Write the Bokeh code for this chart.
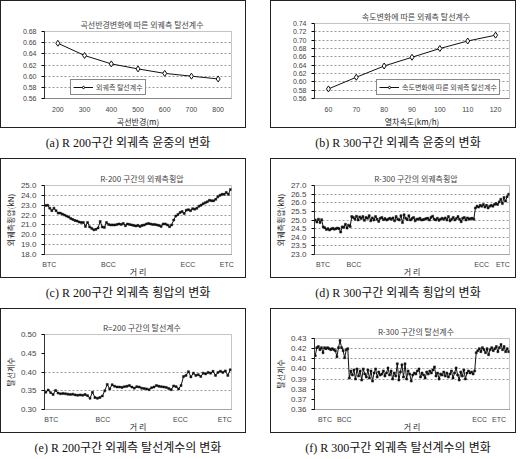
from bokeh.plotting import figure
from bokeh.models import Div, FixedTicker, FactorRange, Range1d, Legend, LegendItem, NumeralTickFormatter
from bokeh.layouts import column, row
from bokeh.embed import file_html
from bokeh.resources import INLINE

# ---------------- data ----------------
a_title = "곡선반경변화에 따른 외궤측 탈선계수"
a_cats = ["200", "300", "400", "500", "600", "700", "800"]
a_vals = [0.659, 0.637, 0.622, 0.613, 0.605, 0.600, 0.595]
a_xlabel = "곡선반경(m)"
a_legend = "외궤측 탈선계수"
a_caption = "(a) R 200구간 외궤측 윤중의 변화"

b_title = "속도변화에 따른 외궤측 탈선계수"
b_cats = ["60", "70", "80", "90", "100", "110", "120"]
b_vals = [0.583, 0.611, 0.638, 0.659, 0.680, 0.698, 0.712]
b_xlabel = "열차속도(km/h)"
b_legend = "속도변화에 따른 외궤측 탈선계수"
b_caption = "(b) R 300구간 외궤측 윤중의 변화"

pos_labels = ["BTC", "BCC", "ECC", "ETC"]

c_title = "R-200 구간의 외궤측횡압"
c_vals = [22.98, 23.0, 22.7, 22.45, 22.7, 22.45, 22.2, 22.2, 22.1, 22.0, 21.9, 21.8,
          21.65, 21.55, 21.45, 21.4, 21.3, 21.25, 21.25, 20.85, 21.25, 20.8, 20.65, 20.5,
          20.55, 20.7, 21.35, 20.8, 20.75, 21.25, 21.05, 21.0, 21.0, 21.0, 21.05, 21.1,
          21.05, 21.15, 20.92, 21.1, 21.05, 21.0, 20.95, 20.9, 20.95, 20.85, 20.95, 21.0,
          21.1, 21.15, 21.1, 21.05, 21.05, 21.0, 20.95, 20.85, 21.1, 21.1, 21.0, 20.82,
          21.0, 21.5, 21.9, 22.05, 22.25, 22.35, 22.15, 22.5, 22.55, 22.45, 22.65, 22.6,
          22.7, 22.9, 23.0, 23.15, 23.25, 23.35, 23.5, 23.45, 23.45, 23.6, 23.85, 24.0,
          24.1, 24.1, 24.3, 24.1, 24.6]
c_tick_frac = [0.02, 0.34, 0.77, 0.98]
c_ylabel = "외궤측횡압(kN)"
c_caption = "(c) R 200구간 외궤측 횡압의 변화"

d_title = "R-300 구간의 외궤측횡압"
d_vals = [25.0, 24.88, 25.05, 24.85, 25.02, 24.6, 24.55, 24.45, 24.5, 24.42, 24.48, 24.52,
          24.47, 24.5, 24.53, 24.5, 24.3, 24.6, 24.58, 24.75, 24.53, 24.7, 24.62,
          25.2, 25.15, 25.05, 25.22, 25.0, 25.18, 25.08, 25.2, 24.98, 25.15, 25.1, 25.25,
          24.95, 25.12, 25.0, 25.2, 25.05, 24.92, 25.1, 25.15, 25.02, 25.08, 25.0, 25.05,
          25.1, 25.05, 25.12, 24.95, 25.2, 25.05, 25.0, 25.25, 24.85, 25.3, 25.1, 25.02,
          25.25, 25.0, 25.08, 25.15, 24.95, 25.05, 25.05, 25.1, 25.0, 25.02, 25.05, 25.08,
          25.1, 25.0, 25.15, 25.22, 25.05, 25.0, 25.1, 24.98, 25.05, 25.1, 25.05, 25.12,
          25.0, 25.2, 24.95, 25.05, 25.15, 25.0, 25.08, 25.2, 25.05, 24.9, 25.1, 25.15,
          25.0, 25.12, 25.05, 25.08, 25.1, 25.05,
          25.7, 25.8, 25.75, 25.85, 25.8, 25.9, 25.75, 25.85, 25.7, 25.8, 25.85, 25.8,
          25.9, 25.95, 25.9, 26.05, 26.2, 25.95, 26.3, 26.1, 26.35, 26.5]
d_tick_frac = [0.04, 0.2, 0.86, 0.97]
d_ylabel = "외궤측횡압(kN)"
d_caption = "(d) R 300구간 외궤측 횡압의 변화"

e_title = "R=200 구간의 탈선계수"
e_vals = [0.346, 0.352, 0.345, 0.340, 0.351, 0.344, 0.342, 0.343, 0.342, 0.341, 0.340,
          0.341, 0.339, 0.338, 0.339, 0.338, 0.340, 0.337, 0.330, 0.346, 0.332, 0.330,
          0.332, 0.336, 0.350, 0.367, 0.355, 0.366, 0.362, 0.360, 0.360, 0.359, 0.361,
          0.362, 0.364, 0.360, 0.357, 0.361, 0.360, 0.357, 0.356, 0.355, 0.353, 0.358,
          0.360, 0.364, 0.362, 0.361, 0.360, 0.359, 0.356, 0.353, 0.363, 0.361, 0.355,
          0.364, 0.388, 0.391, 0.401, 0.387, 0.397, 0.391, 0.393, 0.388, 0.397, 0.395,
          0.399, 0.397, 0.402, 0.391, 0.399, 0.402, 0.399, 0.403, 0.391, 0.406]
e_tick_frac = [0.03, 0.31, 0.73, 0.97]
e_ylabel = "탈선계수"
e_caption = "(e) R 200구간 외궤측 탈선계수의 변화"

f_title = "R-300 구간의 탈선계수"
f_vals = [0.413, 0.421, 0.422, 0.419, 0.421, 0.416, 0.421, 0.420, 0.421, 0.420, 0.419,
          0.420, 0.419, 0.418, 0.412, 0.421, 0.428, 0.421, 0.418, 0.411, 0.419, 0.420,
          0.391, 0.398, 0.394, 0.399, 0.390, 0.400, 0.393, 0.398, 0.389, 0.400, 0.395,
          0.392, 0.399, 0.391, 0.398, 0.388, 0.396, 0.400, 0.392, 0.397, 0.394, 0.395,
          0.398, 0.393, 0.396, 0.401, 0.394, 0.398, 0.390, 0.396, 0.393, 0.405, 0.389,
          0.397, 0.404, 0.392, 0.405, 0.390, 0.398, 0.395, 0.388, 0.394, 0.396, 0.395,
          0.398, 0.400, 0.392, 0.396, 0.394, 0.391, 0.397, 0.395, 0.398, 0.396, 0.399,
          0.402, 0.393, 0.396, 0.390, 0.395, 0.394, 0.397, 0.393, 0.396, 0.392, 0.395,
          0.398, 0.391, 0.396, 0.401, 0.394, 0.389, 0.397, 0.393, 0.399, 0.390, 0.396,
          0.398, 0.396, 0.397, 0.395, 0.398,
          0.416, 0.418, 0.420, 0.417, 0.421, 0.419, 0.416, 0.420, 0.414, 0.419, 0.421,
          0.418, 0.420, 0.422, 0.417, 0.421, 0.424, 0.419, 0.422, 0.417, 0.420, 0.417]
f_tick_frac = [0.05, 0.15, 0.85, 0.95]
f_ylabel = "탈선계수"
f_caption = "(f) R 300구간 외궤측 탈선계수의 변화"

# ---------------- style ----------------
KFONT = "Noto Sans CJK KR"
NFONT = "Liberation Sans"
W = 246
GRID = "#9a9a9a"


def base(title, h, x_range, y_range, left, right, top, bottom):
    p = figure(width=W, height=h, output_backend="svg", toolbar_location=None,
               x_range=x_range, y_range=y_range, title=title,
               min_border_left=left, min_border_right=right,
               min_border_top=top, min_border_bottom=bottom,
               styles={"border": "1px solid #222"})
    p.title.align = "center"
    p.title.text_font = KFONT
    p.title.text_font_size = "8px"
    p.title.text_font_style = "normal"
    p.title.text_color = "#444"
    p.title.offset = 0
    p.title.standoff = 4
    p.title.padding = (8, 0, 0, 0)
    p.outline_line_color = "#888"
    p.outline_line_dash = "1 1"
    p.xgrid.grid_line_color = None
    p.ygrid.grid_line_color = GRID
    p.ygrid.grid_line_dash = "2 2"
    for ax in (p.xaxis, p.yaxis):
        ax.major_label_text_font = NFONT
        ax.major_label_text_font_size = "7px"
        ax.major_label_text_color = "#444"
        ax.axis_label_text_font = KFONT
        ax.axis_label_text_font_size = "8px"
        ax.axis_label_text_font_style = "normal"
        ax.axis_label_text_color = "#222"
        ax.minor_tick_line_color = None
        ax.major_tick_out = 3
        ax.major_tick_in = 0
    p.yaxis.axis_line_color = "#333"
    p.xaxis.axis_line_color = "#888"
    p.xaxis.major_tick_line_color = None
    return p


def curve_fig(title, cats, vals, xlabel, legend_label, h, y0, y1, yt, leg_loc, left, right, top, bottom):
    p = base(title, h, FactorRange(factors=cats, range_padding=0.0), Range1d(y0, y1),
             left, right, top, bottom)
    p.yaxis.ticker = FixedTicker(ticks=yt)
    p.yaxis.formatter = NumeralTickFormatter(format="0.00")
    p.xaxis.axis_label = xlabel
    p.xaxis.axis_label_standoff = 1
    p.xaxis.major_label_standoff = 5
    r1 = p.line(cats, vals, line_color="#111", line_width=1.0)
    r2 = p.scatter(cats, vals, marker="diamond", size=6, fill_color="white",
                   line_color="#111", line_width=1)
    leg = Legend(items=[LegendItem(label=legend_label, renderers=[r1, r2])],
                 location=leg_loc, label_text_font=KFONT, label_text_font_size="7px",
                 glyph_width=20, glyph_height=8, label_height=8, padding=2, spacing=0,
                 margin=0, border_line_color="#111", label_standoff=3,
                 background_fill_alpha=1)
    p.add_layout(leg)
    return p


def series_fig(title, vals, tick_frac, ylabel, h, y0, y1, yt, fmt, gridt, left, right, top, bottom):
    n = len(vals)
    xs = list(range(n))
    p = base(title, h, Range1d(-0.5, n - 0.5), Range1d(y0, y1), left, right, top, bottom)
    p.yaxis.ticker = FixedTicker(ticks=yt)
    p.ygrid.ticker = FixedTicker(ticks=gridt)
    p.yaxis.formatter = NumeralTickFormatter(format=fmt)
    p.yaxis.axis_label = ylabel
    p.yaxis.axis_label_standoff = 2
    p.yaxis.major_label_text_font_size = "8px"
    p.xaxis.ticker = FixedTicker(ticks=[f * (n - 1) for f in tick_frac])
    p.xaxis.major_label_overrides = {f * (n - 1): lab for f, lab in zip(tick_frac, pos_labels)}
    p.xaxis.major_label_text_font_size = "7px"
    p.xaxis.major_label_standoff = 3
    p.xaxis.axis_label = "거 리"
    p.xaxis.axis_label_standoff = -5
    p.xaxis.axis_line_dash = "1 1"
    p.line(xs, vals, line_color="#111", line_width=1.0)
    p.scatter(xs, vals, marker="square", size=2, fill_color="#111", line_color="#111",
              line_width=0.5)
    return p


def caption(text):
    return Div(text=text, width=W, height=14,
               styles={"font-family": "'Liberation Serif', 'Noto Sans CJK KR', serif",
                       "font-size": "12px", "text-align": "center", "line-height": "14px",
                       "color": "#111", "white-space": "nowrap"})


pa = curve_fig(a_title, a_cats, a_vals, a_xlabel, a_legend, 128, 0.56, 0.68,
               [0.56, 0.58, 0.60, 0.62, 0.64, 0.66, 0.68], (26, 3), 24, 6, 30, 24)
pb = curve_fig(b_title, b_cats, b_vals, b_xlabel, b_legend, 128, 0.56, 0.74,
               [0.56, 0.58, 0.60, 0.62, 0.64, 0.66, 0.68, 0.70, 0.72, 0.74], (62, 3), 18, 6, 22, 24)

pc = series_fig(c_title, c_vals, c_tick_frac, c_ylabel, 120, 18.0, 25.0,
                [18, 19, 20, 21, 22, 23, 24, 25], "0.0", [19, 20, 21, 22, 23, 24, 25],
                38, 16, 26, 14)
pd_ = series_fig(d_title, d_vals, d_tick_frac, d_ylabel, 120, 23.0, 27.0,
                 [23.0, 23.5, 24.0, 24.5, 25.0, 25.5, 26.0, 26.5, 27.0], "0.0",
                 [23.5, 24.0, 24.5, 25.0, 25.5, 26.0, 26.5, 27.0], 40, 8, 26, 16)
pe = series_fig(e_title, e_vals, e_tick_frac, e_ylabel, 125, 0.30, 0.50,
                [0.30, 0.35, 0.40, 0.45, 0.50], "0.00", [0.35, 0.40], 42, 8, 25, 22)
pf = series_fig(f_title, f_vals, f_tick_frac, f_ylabel, 125, 0.36, 0.43,
                [0.36, 0.37, 0.38, 0.39, 0.40, 0.41, 0.42, 0.43], "0.00",
                [0.39, 0.40, 0.41, 0.42], 36, 5, 29, 19)

left_col = column(pa, caption(a_caption), pc, caption(c_caption), pe, caption(e_caption), spacing=3)
right_col = column(pb, caption(b_caption), pd_, caption(d_caption), pf, caption(f_caption), spacing=3)
layout = row(left_col, right_col, spacing=14)

open("out.html", "w").write(file_html(layout, INLINE))
